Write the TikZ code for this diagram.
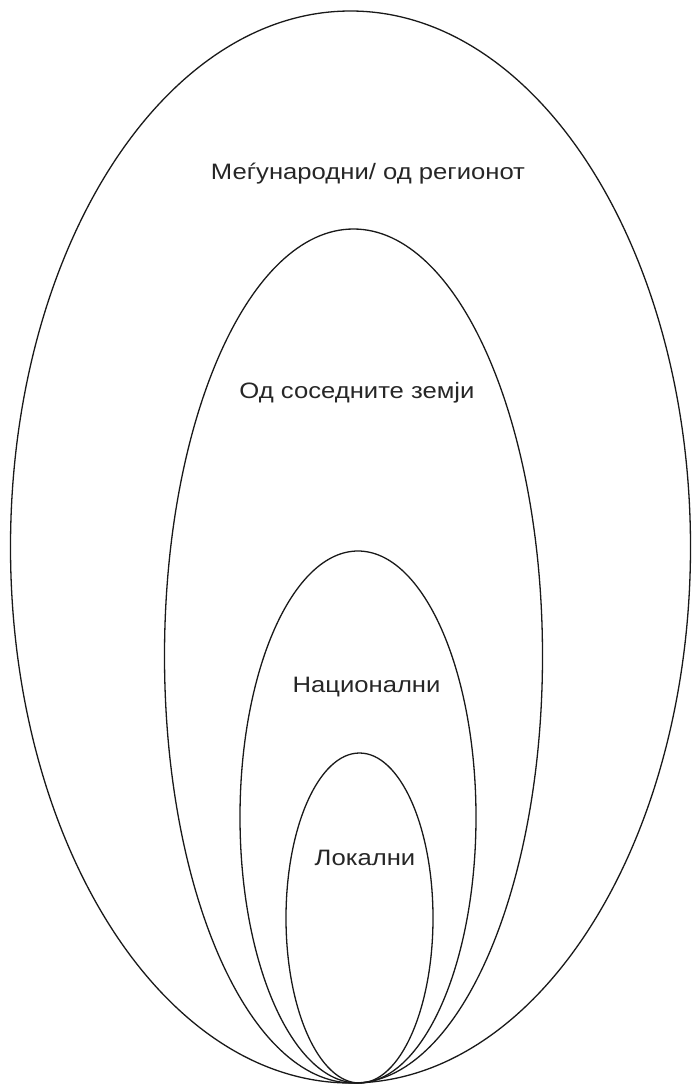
\documentclass[tikz,border=0pt]{standalone}
\usepackage{fontspec}
\setmainfont{Liberation Sans}
\newcommand{\widetext}[1]{\scalebox{1.15}[1]{#1}}
\begin{document}
\begin{tikzpicture}[x=1pt,y=-1pt,
  ring/.style={draw=black!90, line width=1.3pt},
  lbl/.style={font=\fontsize{22.3}{26}\selectfont, text=black!85, inner sep=0pt, anchor=base}]
\useasboundingbox (0,0) rectangle (692,1088);
\draw[ring] (350.5,547) ellipse [x radius=340, y radius=536];
\draw[ring] (353.5,656) ellipse [x radius=189, y radius=427];
\draw[ring] (358,817) ellipse [x radius=118, y radius=266];
\draw[ring] (359.5,918) ellipse [x radius=73.5, y radius=165];
\node[lbl] (t1) at (368,179) {\widetext{Меѓународни/ од регионот}};
\node[lbl] (t2) at (357,398) {\widetext{Од соседните земји}};
\node[lbl] (t3) at (366.5,692) {\widetext{Национални}};
\node[lbl] (t4) at (365,865) {\widetext{Локални}};
\end{tikzpicture}
\end{document}
